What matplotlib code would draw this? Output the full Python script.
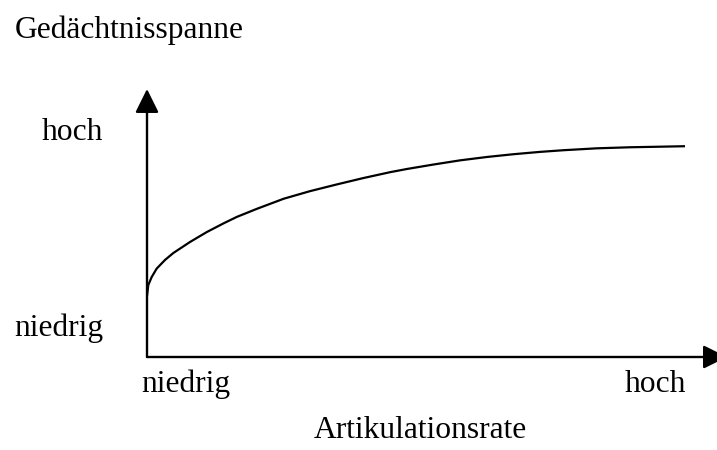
import matplotlib
matplotlib.use("Agg")
import matplotlib.pyplot as plt

# Data (normalised: x 0..1 = niedrig..hoch Artikulationsrate, y 1 = curve end)
rate = [0.0, 0.0024, 0.0087, 0.018, 0.0335, 0.049, 0.0799, 0.111, 0.142, 0.167,
        0.204, 0.254, 0.303, 0.353, 0.402, 0.452, 0.483, 0.532, 0.582, 0.632,
        0.681, 0.730, 0.774, 0.836, 0.898, 0.960, 1.0]
span = [0.289, 0.341, 0.379, 0.419, 0.460, 0.493, 0.545, 0.592, 0.633, 0.664,
        0.702, 0.750, 0.786, 0.818, 0.848, 0.876, 0.891, 0.912, 0.932, 0.948,
        0.961, 0.972, 0.980, 0.989, 0.994, 0.997, 0.999]

y_label = "Gedächtnisspanne"
x_label = "Artikulationsrate"
low_label = "niedrig"
high_label = "hoch"

plt.rcParams['font.family'] = ['Liberation Serif', 'DejaVu Serif']

W, H = 717, 450
fig = plt.figure(figsize=(W / 100, H / 100), dpi=100)
ox, oy = 147, 357
ax = fig.add_axes([ox / W, (H - oy) / H, (W - ox) / W, (oy - 89) / H])
ax.set_xlim(0, (W - ox) / 538)
ax.set_ylim(0, (oy - 89) / 211)
ax.axis('off')

ax.plot(rate, span, color='black', lw=1.6, solid_capstyle='butt',
        solid_joinstyle='round')

# axes with arrows
ax.annotate('', xy=(0, 1), xycoords='axes fraction', xytext=(0, 0),
            arrowprops=dict(arrowstyle='-|>,head_length=1.45,head_width=0.72', lw=1.7,
                            color='black', shrinkA=0, shrinkB=0))
ax.annotate('', xy=(1.0175, 0), xycoords='axes fraction', xytext=(0, 0),
            annotation_clip=False,
            arrowprops=dict(arrowstyle='-|>,head_length=1.45,head_width=0.72', lw=1.7,
                            color='black', shrinkA=0, shrinkB=0))

fs = 22.7
def t(px, py, s, ha='left'):
    fig.text(px / W, 1 - py / H, s, ha=ha, va='baseline', fontsize=fs)

t(15, 38, y_label)
t(103, 140, high_label, ha='right')
t(103, 336, low_label, ha='right')
t(141, 392, low_label)
t(686, 392, high_label, ha='right')
t(420, 438, x_label, ha='center')

fig.savefig('out.png', dpi=100)
